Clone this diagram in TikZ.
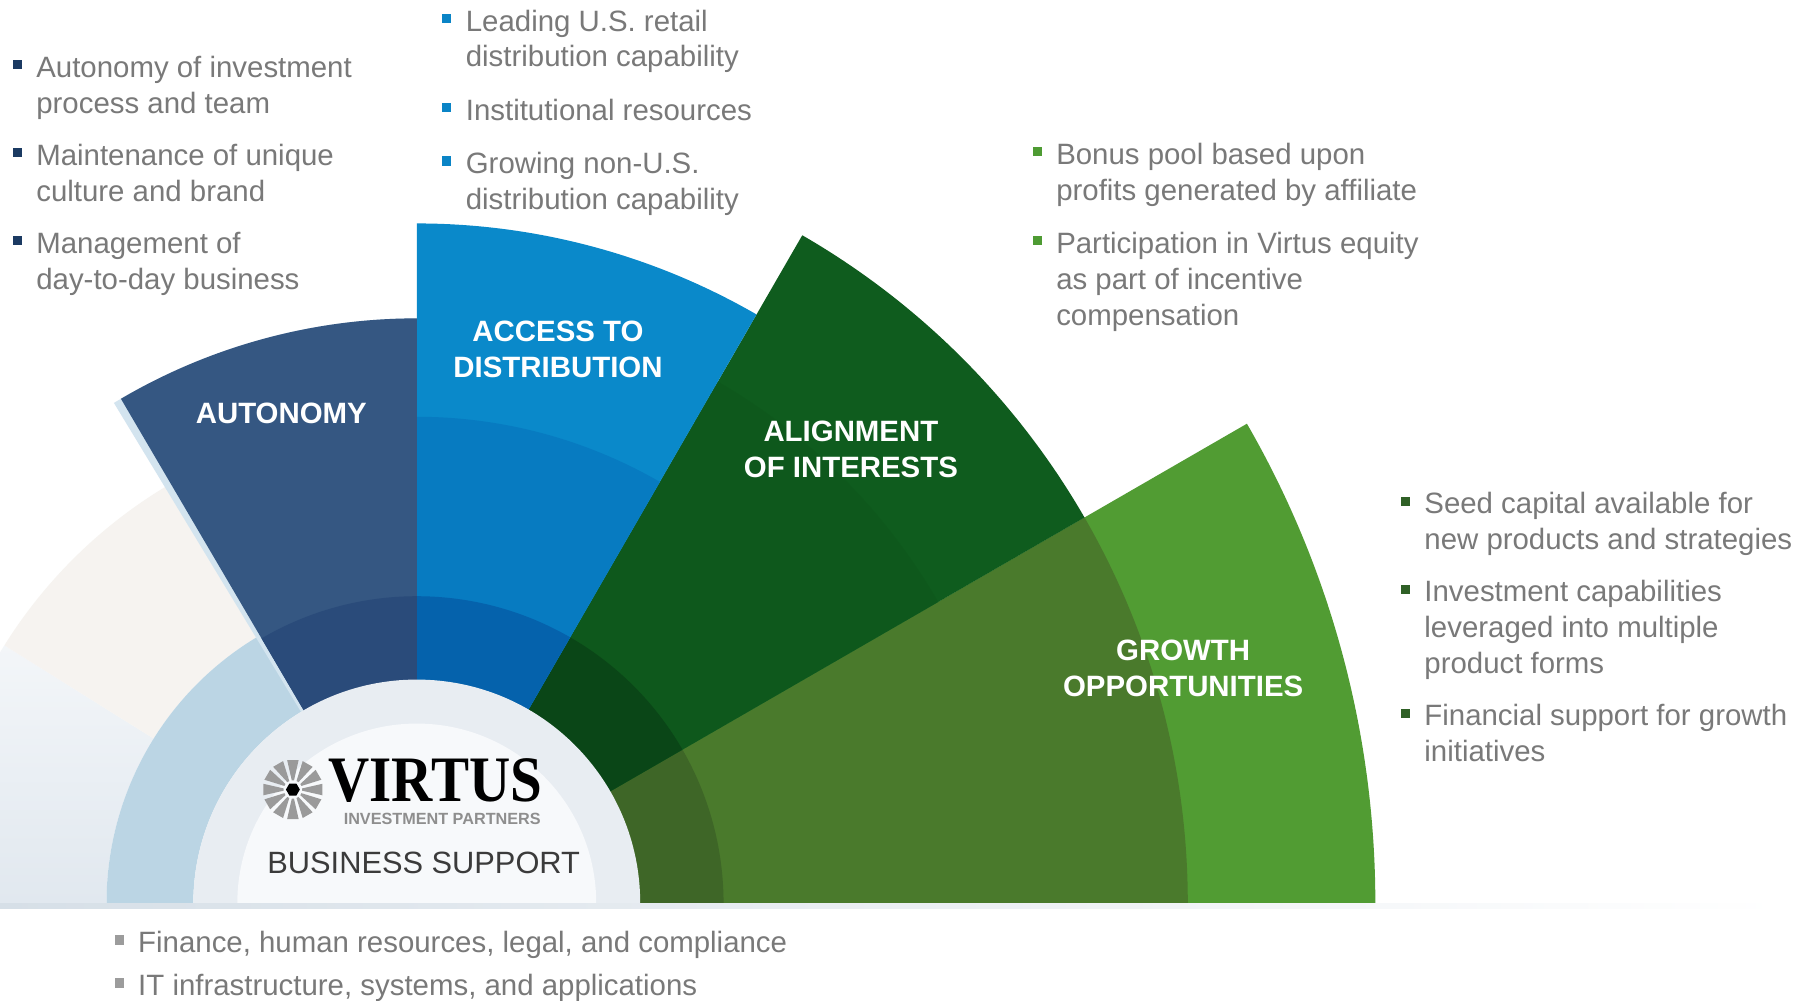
\documentclass[tikz,border=0pt]{standalone}
\usepackage{fontspec}
\usepackage{graphicx}
\setmainfont{Liberation Sans}
\newfontfamily\logofont{Liberation Serif}

\definecolor{txtgray}{HTML}{797979}
\definecolor{darktext}{HTML}{3B3B3B}
\definecolor{autbul}{HTML}{1B3A62}
\definecolor{accbul}{HTML}{0A84C6}
\definecolor{alibul}{HTML}{4E9B33}
\definecolor{grobul}{HTML}{2F6026}
\definecolor{supbul}{HTML}{9C9C9C}
\definecolor{autout}{HTML}{355782}
\definecolor{autin}{HTML}{2A4B7A}
\definecolor{accout}{HTML}{0A89CA}
\definecolor{accmid}{HTML}{077BC1}
\definecolor{accin}{HTML}{0562AC}
\definecolor{aliout}{HTML}{0F5C1E}
\definecolor{alimid}{HTML}{0E581C}
\definecolor{aliin}{HTML}{0A4617}
\definecolor{groout}{HTML}{519C33}
\definecolor{gromid}{HTML}{4A7A2C}
\definecolor{groin}{HTML}{3E6627}
\definecolor{ringblue}{HTML}{BBD5E4}
\definecolor{beige}{HTML}{F6F3F0}
\definecolor{mist}{HTML}{E1E8EF}
\definecolor{edgeblue}{HTML}{D3E4EF}
\definecolor{discout}{HTML}{E8EDF2}
\definecolor{discin}{HTML}{F7F9FB}
\definecolor{logogray}{HTML}{8E8E8E}
\definecolor{stargray}{HTML}{9A9A9A}
\definecolor{shadow}{HTML}{D6DFE7}

\tikzset{
  bodytext/.style={font=\fontsize{12.7}{15.5}\selectfont, text=txtgray, anchor=north west, inner sep=0pt, align=left},
  bullet/.style={label={[fill=#1, inner sep=0pt, minimum size=4pt, anchor=center, xshift=-8pt, yshift=-4pt]north west:{}}},
  fanlabel/.style={font=\fontsize{12.7}{15.5}\selectfont\bfseries, text=white, align=center, inner sep=0pt}
}

\begin{document}
\begin{tikzpicture}[x=0.5pt,y=0.5pt]
        \useasboundingbox (-360,-84) rectangle (1200,780);
        \fill [white] (-360,-84) rectangle (1200,780);

        % pale background on the left
        \shade [top color=mist!40, bottom color=mist] (148:268) arc[start angle=148,end angle=180,radius=268] -- (180:420) arc[start angle=180,end angle=148,radius=420] -- cycle;
        \fill [beige] (120.4:268) arc[start angle=120.4,end angle=148,radius=268] -- (148:420) arc[start angle=148,end angle=120.4,radius=420] -- cycle;
        \fill [ringblue] (120.4:193) arc[start angle=120.4,end angle=180,radius=193] -- (180:268) arc[start angle=180,end angle=120.4,radius=268] -- cycle;

        % growth
        \fill [groout] (0,0) -- (0:828) arc[start angle=0,end angle=30,radius=828] -- cycle;
        \fill [gromid] (0,0) -- (0:666) arc[start angle=0,end angle=30,radius=666] -- cycle;
        \fill [groin] (0,0) -- (0:265) arc[start angle=0,end angle=30,radius=265] -- cycle;
        % alignment
        \fill [aliout] (0,0) -- (30:666) arc[start angle=30,end angle=60,radius=666] -- cycle;
        \fill [alimid] (0,0) -- (30:520) arc[start angle=30,end angle=60,radius=520] -- cycle;
        \fill [aliin] (0,0) -- (30:265) arc[start angle=30,end angle=60,radius=265] -- cycle;
        % access
        \fill [accout] (0,0) -- (60:587) arc[start angle=60,end angle=90,radius=587] -- cycle;
        \fill [accmid] (0,0) -- (60:420) arc[start angle=60,end angle=90,radius=420] -- cycle;
        \fill [accin] (0,0) -- (60:265) arc[start angle=60,end angle=90,radius=265] -- cycle;
        % autonomy
        \fill [edgeblue] (0,0) -- (90:505) arc[start angle=90,end angle=121.2,radius=505] -- cycle;
        \fill [autout] (0,0) -- (90:505) arc[start angle=90,end angle=120.4,radius=505] -- cycle;
        \fill [autin] (0,0) -- (90:265) arc[start angle=90,end angle=120.4,radius=265] -- cycle;

        % business support disc
        \fill [discout] (0:193) arc[start angle=0,end angle=180,radius=193] -- cycle;
        \fill [discin] (0:155) arc[start angle=0,end angle=180,radius=155] -- cycle;
        \shade [left color=shadow, right color=white] (-360,0) rectangle (1180,-5);

        % logo
        \begin{scope}[shift={(-107,98)}]
            \foreach \a in {0,30,...,330}
                \fill [stargray] ({\a-7}:8) -- ({\a-11}:26) -- ({\a+11}:26) -- ({\a+7}:8) -- cycle;
            \fill [black] (0:6) -- (60:6) -- (120:6) -- (180:6) -- (240:6) -- (300:6) -- cycle;
        \end{scope}
        \node [anchor=base, inner sep=0pt] (virtus) at (16,88) {\scalebox{0.88}[1]{\fontsize{28}{28}\selectfont\logofont\bfseries VIRTUS}};
        \node [anchor=base, inner sep=0pt, text=logogray, font=\fontsize{7}{7}\selectfont\bfseries] (partners) at (22,68) {INVESTMENT PARTNERS};
        \node [text=darktext, font=\fontsize{13.3}{15}\selectfont, inner sep=0pt] (support) at (6,35) {BUSINESS SUPPORT};

        % sector titles
        \node [fanlabel] (autonomy) at (-117,423) {AUTONOMY};
        \node [fanlabel] (access) at (122,478) {ACCESS TO\\DISTRIBUTION};
        \node [fanlabel] (alignment) at (375,392) {ALIGNMENT\\OF INTERESTS};
        \node [fanlabel] (growth) at (662,203) {GROWTH\\OPPORTUNITIES};

        % bullet points
        \node [bodytext, bullet=autbul] (autA) at (-329,732) {Autonomy of investment\\process and team};
        \node [bodytext, bullet=autbul] (autB) at (-329,656) {Maintenance of unique\\culture and brand};
        \node [bodytext, bullet=autbul] (autC) at (-329,580) {Management of\\day-to-day business};

        \node [bodytext, bullet=accbul] (accA) at (42,772) {Leading U.S. retail\\distribution capability};
        \node [bodytext, bullet=accbul] (accB) at (42,695) {Institutional resources};
        \node [bodytext, bullet=accbul] (accC) at (42,649) {Growing non-U.S.\\distribution capability};

        \node [bodytext, bullet=alibul] (aliA) at (552,657) {Bonus pool based upon\\profits generated by affiliate};
        \node [bodytext, bullet=alibul] (aliB) at (552,580) {Participation in Virtus equity\\as part of incentive\\compensation};

        \node [bodytext, bullet=grobul] (groA) at (870,355) {Seed capital available for\\new products and strategies};
        \node [bodytext, bullet=grobul] (groB) at (870,279) {Investment capabilities\\leveraged into multiple\\product forms};
        \node [bodytext, bullet=grobul] (groC) at (870,172) {Financial support for growth\\initiatives};

        \node [bodytext, bullet=supbul] (supA) at (-241,-24) {Finance, human resources, legal, and compliance};
        \node [bodytext, bullet=supbul] (supB) at (-241,-61) {IT infrastructure, systems, and applications};
    \end{tikzpicture}
\end{document}
